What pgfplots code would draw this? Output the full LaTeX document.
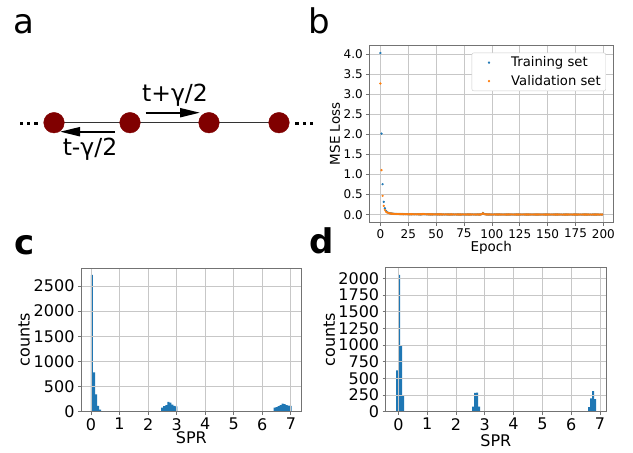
\documentclass[border=0pt]{standalone}
\usepackage{fontspec}
\setmainfont{DejaVu Sans}
\usepackage{pgfplots}
\pgfplotsset{compat=1.18}
\usepackage{pgfplotstable}
\usetikzlibrary{arrows.meta}
\definecolor{mplblue}{HTML}{1F77B4}
\definecolor{mplorange}{HTML}{FF7F0E}
\definecolor{beadred}{HTML}{800000}

% loss curves (epoch, training, validation)
\pgfplotstableread[row sep=\\]{
epoch train val\\
0 4.03 3.27\\ 1 2.02 1.11\\ 2 0.76 0.47\\ 3 0.32 0.22\\ 4 0.16 0.12\\
5 0.095 0.075\\ 6 0.065 0.055\\ 7 0.048 0.042\\ 8 0.038 0.034\\ 9 0.032 0.029\\
10 0.028 0.026\\ 11 0.025 0.023\\ 12 0.023 0.021\\ 13 0.021 0.020\\ 14 0.019 0.018\\
15 0.018 0.017\\ 16 0.017 0.016\\ 17 0.016 0.015\\ 18 0.015 0.015\\ 19 0.015 0.014\\
20 0.014 0.014\\ 21 0.013 0.013\\ 22 0.013 0.012\\ 23 0.012 0.012\\ 24 0.012 0.011\\
25 0.011 0.011\\ 26 0.011 0.011\\ 27 0.011 0.010\\ 28 0.010 0.010\\ 29 0.010 0.010\\
30 0.010 0.009\\ 31 0.009 0.009\\ 32 0.009 0.010\\ 33 0.009 0.009\\ 34 0.009 0.008\\
35 0.008 0.009\\ 36 0.008 0.009\\ 37 0.009 0.011\\ 38 0.010 0.014\\ 39 0.011 0.017\\
40 0.009 0.012\\ 41 0.008 0.009\\ 42 0.008 0.008\\ 43 0.008 0.008\\ 44 0.008 0.008\\
45 0.007 0.008\\ 46 0.007 0.008\\ 47 0.007 0.008\\ 48 0.007 0.007\\ 49 0.007 0.007\\
50 0.007 0.007\\ 51 0.007 0.007\\ 52 0.007 0.008\\ 53 0.007 0.007\\ 54 0.007 0.007\\
55 0.006 0.007\\ 56 0.006 0.007\\ 57 0.006 0.007\\ 58 0.006 0.006\\ 59 0.006 0.007\\
60 0.006 0.006\\ 61 0.006 0.006\\ 62 0.005 0.006\\ 63 0.006 0.006\\ 64 0.006 0.007\\
65 0.005 0.006\\ 66 0.006 0.006\\ 67 0.005 0.006\\ 68 0.005 0.006\\ 69 0.006 0.006\\
70 0.005 0.006\\ 71 0.005 0.006\\ 72 0.005 0.005\\ 73 0.006 0.006\\ 74 0.005 0.006\\
75 0.005 0.006\\ 76 0.005 0.005\\ 77 0.005 0.006\\ 78 0.005 0.005\\ 79 0.005 0.006\\
80 0.005 0.005\\ 81 0.005 0.006\\ 82 0.005 0.005\\ 83 0.005 0.005\\ 84 0.005 0.006\\
85 0.005 0.005\\ 86 0.005 0.005\\ 87 0.006 0.006\\ 88 0.005 0.005\\ 89 0.005 0.005\\
90 0.006 0.006\\ 91 0.014 0.011\\ 92 0.044 0.036\\ 93 0.019 0.014\\ 94 0.009 0.008\\
95 0.007 0.007\\ 96 0.006 0.006\\ 97 0.006 0.006\\ 98 0.005 0.006\\ 99 0.005 0.005\\
100 0.005 0.005\\ 101 0.005 0.005\\ 102 0.005 0.005\\ 103 0.005 0.005\\ 104 0.005 0.006\\
105 0.005 0.005\\ 106 0.005 0.005\\ 107 0.005 0.005\\ 108 0.005 0.005\\ 109 0.005 0.005\\
110 0.005 0.005\\ 111 0.005 0.005\\ 112 0.005 0.005\\ 113 0.004 0.005\\ 114 0.005 0.005\\
115 0.005 0.005\\ 116 0.004 0.005\\ 117 0.005 0.005\\ 118 0.004 0.005\\ 119 0.005 0.005\\
120 0.004 0.005\\ 121 0.005 0.005\\ 122 0.004 0.005\\ 123 0.004 0.005\\ 124 0.005 0.005\\
125 0.004 0.005\\ 126 0.004 0.005\\ 127 0.004 0.004\\ 128 0.005 0.005\\ 129 0.004 0.005\\
130 0.004 0.005\\ 131 0.004 0.004\\ 132 0.004 0.005\\ 133 0.004 0.005\\ 134 0.004 0.004\\
135 0.004 0.005\\ 136 0.004 0.004\\ 137 0.004 0.005\\ 138 0.004 0.004\\ 139 0.004 0.005\\
140 0.004 0.004\\ 141 0.004 0.004\\ 142 0.004 0.005\\ 143 0.004 0.004\\ 144 0.004 0.004\\
145 0.004 0.004\\ 146 0.004 0.005\\ 147 0.004 0.004\\ 148 0.004 0.004\\ 149 0.004 0.004\\
150 0.004 0.004\\ 151 0.004 0.004\\ 152 0.004 0.004\\ 153 0.004 0.005\\ 154 0.004 0.004\\
155 0.004 0.004\\ 156 0.004 0.004\\ 157 0.004 0.004\\ 158 0.004 0.004\\ 159 0.004 0.004\\
160 0.004 0.004\\ 161 0.004 0.004\\ 162 0.004 0.004\\ 163 0.003 0.004\\ 164 0.004 0.004\\
165 0.004 0.004\\ 166 0.003 0.004\\ 167 0.004 0.004\\ 168 0.003 0.004\\ 169 0.004 0.004\\
170 0.003 0.004\\ 171 0.004 0.004\\ 172 0.003 0.004\\ 173 0.003 0.004\\ 174 0.004 0.004\\
175 0.003 0.004\\ 176 0.003 0.004\\ 177 0.003 0.004\\ 178 0.004 0.004\\ 179 0.003 0.004\\
180 0.003 0.004\\ 181 0.003 0.004\\ 182 0.003 0.004\\ 183 0.003 0.004\\ 184 0.003 0.004\\
185 0.003 0.004\\ 186 0.003 0.003\\ 187 0.003 0.004\\ 188 0.003 0.004\\ 189 0.003 0.003\\
190 0.003 0.004\\ 191 0.003 0.004\\ 192 0.003 0.003\\ 193 0.003 0.004\\ 194 0.003 0.004\\
195 0.003 0.003\\ 196 0.003 0.004\\ 197 0.003 0.003\\ 198 0.003 0.004\\ 199 0.003 0.003\\
}\losstable

\pgfplotsset{
  panel/.style={
    scale only axis, anchor=south west, axis on top,
    tick align=outside, tick pos=left, major tick length=3pt,
    tick style={black!55, line width=0.7pt},
    axis line style={black!55, line width=0.7pt},
    grid=major, grid style={black!22, line width=0.7pt},
    /pgf/number format/assume math mode=true,
    /pgf/number format/1000 sep={},
  },
  small panel/.style={
    ticklabel style={font=\fontsize{12}{12}\selectfont},
    label style={font=\fontsize{13.5}{13.5}\selectfont},
  },
  big panel/.style={
    ticklabel style={font=\fontsize{16}{16}\selectfont},
    label style={font=\fontsize{16}{16}\selectfont},
  },
}

\begin{document}
\begin{tikzpicture}
\useasboundingbox (0pt,0pt) rectangle (633pt,453pt);

% panel letters
\node[anchor=base west, inner sep=0pt, font=\fontsize{34}{34}\selectfont] at (13pt,419.5pt) {a};
\node[anchor=base west, inner sep=0pt, font=\fontsize{34}{34}\selectfont] at (308pt,419.5pt) {b};
\node[anchor=base west, inner sep=0pt, font=\fontsize{34}{34}\selectfont\bfseries] at (14.5pt,198pt) {c};
\node[anchor=base west, inner sep=0pt, font=\fontsize{34}{34}\selectfont\bfseries] at (309pt,199pt) {d};

% a: chain schematic (pixel coordinates, y downward)
\begin{axis}[at={(0pt,253pt)}, anchor=south west, scale only axis,
  width=320pt, height=200pt, xmin=0, xmax=320, ymin=0, ymax=200,
  y dir=reverse, hide axis, clip=false]
  \addplot[no marks, black!80, line width=1.1pt] coordinates {(54,122.7) (279,122.7)};
  \addplot[only marks, mark=*, mark size=10.3pt, beadred] coordinates {(54,122.7) (130,122.7) (209,122.7) (279,122.7)};
  \addplot[only marks, mark=square*, mark size=1.3pt, black] coordinates {(21,123.3) (28.3,123.3) (35.6,123.3) (296.7,123.3) (304,123.3) (311.3,123.3)};
  \draw[line width=2pt, -{Triangle[length=20pt, width=9pt]}] (axis cs:145.7,112.7) -- (axis cs:200,112.7);
  \draw[line width=2pt, -{Triangle[length=20pt, width=9pt]}] (axis cs:115,131.7) -- (axis cs:60,131.7);
  \node[font=\fontsize{23.5}{23.5}\selectfont, anchor=center] at (axis cs:175,95.7) {t+γ/2};
  \node[font=\fontsize{23.5}{23.5}\selectfont, anchor=center] at (axis cs:90,149) {t-γ/2};
\end{axis}

% b: loss curves
\begin{axis}[panel, small panel, at={(369.3pt,230.3pt)}, width=244pt, height=177.7pt,
  xmin=-9.95, xmax=208.95, ymin=-0.2, ymax=4.23,
  xtick={0,25,50,75,100,125,150,175,200},
  ytick={0,0.5,1,1.5,2,2.5,3,3.5,4},
  yticklabel style={/pgf/number format/.cd, fixed, fixed zerofill, precision=1},
  xlabel={Epoch}, ylabel={MSE Loss},
  xlabel style={at={(axis description cs:0.5,-0.142)}, anchor=center},
  ylabel style={at={(axis description cs:-0.1406,0.5)}, anchor=center},
  legend style={at={(0.970,0.957)}, anchor=north east, draw=black!20,
    rounded corners=2pt, font=\fontsize{13.2}{13.2}\selectfont,
    inner xsep=3pt, inner ysep=2pt, row sep=3pt, nodes={inner sep=2pt}},
  legend cell align=left,
  legend image code/.code={\draw[#1] plot coordinates {(0pt,0pt)}; \path (-14pt,0pt) (20pt,0pt);},
]
  \addplot[only marks, mark=*, mark size=0.9pt, mplblue] table[x=epoch, y=train] {\losstable};
  \addplot[only marks, mark=*, mark size=0.9pt, mplorange] table[x=epoch, y=val] {\losstable};
  \legend{Training set, Validation set}
\end{axis}

% c: SPR histogram
\begin{axis}[panel, big panel, at={(81pt,41.3pt)}, width=220.7pt, height=143.7pt,
  xmin=-0.35, xmax=7.38, ymin=0, ymax=2858,
  xtick={0,1,2,3,4,5,6,7}, ytick={0,500,1000,1500,2000,2500},
  xlabel={SPR}, ylabel={counts},
  xlabel style={at={(axis description cs:0.5,-0.181)}, anchor=center},
  ylabel style={at={(axis description cs:-0.258,0.5)}, anchor=center},
]
  \addplot[ybar interval, fill=mplblue, draw=none] coordinates {
    (0,2720) (0.0703,780) (0.1406,345) (0.2109,115) (0.2812,40) (0.3515,0)};
  \addplot[ybar interval, fill=mplblue, draw=none] coordinates {
    (2.4605,80) (2.5308,110) (2.6011,130) (2.6714,195) (2.7417,178) (2.812,140)
    (2.8823,115) (2.9526,108) (3.0229,0)};
  \addplot[ybar interval, fill=mplblue, draw=none] coordinates {
    (6.3973,80) (6.4676,92) (6.5379,110) (6.6082,130) (6.6785,160) (6.7488,150)
    (6.8191,130) (6.8894,120) (6.9597,115) (7.03,0)};
\end{axis}

% d: SPR histogram
\begin{axis}[panel, big panel, at={(385.7pt,41.3pt)}, width=220.3pt, height=144pt,
  xmin=-0.44, xmax=7.21, ymin=0, ymax=2159,
  xtick={0,1,2,3,4,5,6,7}, ytick={0,250,500,750,1000,1250,1500,1750,2000},
  xlabel={SPR}, ylabel={counts},
  xlabel style={at={(axis description cs:0.5,-0.2)}, anchor=center},
  ylabel style={at={(axis description cs:-0.256,0.5)}, anchor=center},
]
  \addplot[ybar interval, fill=mplblue, draw=none] coordinates {
    (-0.08,620) (-0.0105,2050) (0.059,1000) (0.1285,250) (0.198,0)};
  \addplot[ybar interval, fill=mplblue, draw=none] coordinates {
    (2.561,75) (2.6305,282) (2.70,285) (2.7695,75) (2.839,0)};
  \addplot[ybar interval, fill=mplblue, draw=none] coordinates {
    (6.592,70) (6.6615,200) (6.731,310) (6.8005,190) (6.87,0)};
\end{axis}
\end{tikzpicture}
\end{document}
